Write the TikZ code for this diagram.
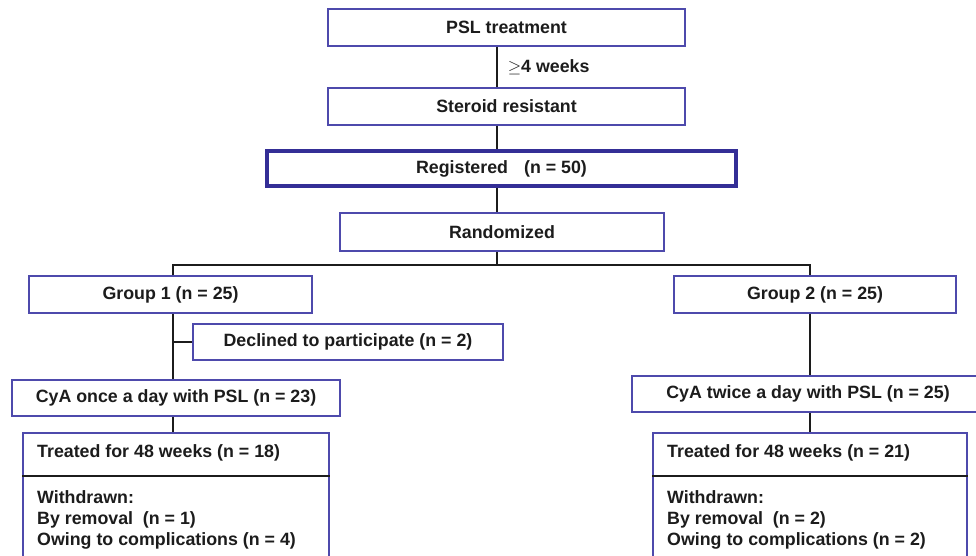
\documentclass[tikz,border=0pt]{standalone}
\usepackage{fontspec}
\setmainfont{Liberation Sans}
\definecolor{boxblue}{RGB}{78,74,172}
\definecolor{regblue}{RGB}{52,46,150}
\definecolor{ink}{RGB}{28,28,28}
\tikzset{
  box/.style={draw=boxblue, line width=1.5pt, rectangle, inner sep=0pt, fill=white,
    text=ink, font=\fontsize{17.8}{21.3}\selectfont\bfseries},
  regbox/.style={box, draw=regblue, line width=4pt},
  conn/.style={draw=ink, line width=1.5pt},
  txt/.style={inner sep=0pt, text=ink, font=\fontsize{17.8}{21.3}\selectfont\bfseries}
}
\begin{document}
\begin{tikzpicture}[x=1pt,y=-1pt]
\useasboundingbox (0,0) rectangle (976,556);
\clip (0,0) rectangle (976,556);
\fill[white] (0,0) rectangle (976,556);
\coordinate (sp) at (497,0);
\coordinate (lx) at (173,0);
\coordinate (rx) at (810,0);
\coordinate (by) at (0,265);
\coordinate (dv) at (0,476);
% boxes
\node[box, minimum width=357pt, minimum height=37pt] (psl) at (506.5,27.5) {PSL treatment};
\node[box, minimum width=357pt, minimum height=37pt] (ster) at (506.5,106.5) {Steroid resistant};
\node[regbox, minimum width=469pt, minimum height=35pt] (reg) at (501.5,168.5) {Registered\hspace{0.9em}(n = 50)};
\node[box, minimum width=324pt, minimum height=38pt] (rand) at (502,232) {Randomized};
\node[box, minimum width=283pt, minimum height=37pt] (g1) at (170.5,294.5) {Group 1 (n = 25)};
\node[box, minimum width=310pt, minimum height=36pt] (dec) at (348,342) {Declined to participate (n = 2)};
\node[box, minimum width=328pt, minimum height=36pt] (c1) at (176,398) {CyA once a day with PSL (n = 23)};
\node[box, minimum width=282pt, minimum height=37pt] (g2) at (815,294.5) {Group 2 (n = 25)};
\node[box, minimum width=352pt, minimum height=36pt] (c2) at (808,394) {CyA twice a day with PSL (n = 25)};
\node[box, minimum width=306pt, minimum height=140pt] (t1) at (176,503) {};
\node[box, minimum width=314pt, minimum height=140pt] (t2) at (810,503) {};
% dividers
\draw[conn] (t1.west |- dv) -- (t1.east |- dv);
\draw[conn] (t2.west |- dv) -- (t2.east |- dv);
% texts inside treated boxes
\node[txt, anchor=west] (t1a) at (37,453) {Treated for 48 weeks (n = 18)};
\node[txt, anchor=north west, align=left] (t1b) at (37,490) {Withdrawn:\\By removal\hspace{0.55em}(n = 1)\\Owing to complications (n = 4)};
\node[txt, anchor=west] (t2a) at (667,453) {Treated for 48 weeks (n = 21)};
\node[txt, anchor=north west, align=left] (t2b) at (667,490) {Withdrawn:\\By removal\hspace{0.55em}(n = 2)\\Owing to complications (n = 2)};
% connectors
\draw[conn] (psl.south -| sp) -- (ster.north -| sp)
  node[midway, right=10pt, txt] (wk) {$\geq$4 weeks};
\draw[conn] (ster.south -| sp) -- (reg.north -| sp);
\draw[conn] (reg.south -| sp) -- (rand.north -| sp);
\draw[conn] (rand.south -| sp) -- (sp |- by);
\draw[conn] (g1.north -| lx) -- (lx |- by) -- (rx |- by) -- (g2.north -| rx);
\draw[conn] (g1.south -| lx) -- (c1.north -| lx);
\draw[conn] (lx |- dec.west) -- (dec.west);
\draw[conn] (c1.south -| lx) -- (t1.north -| lx);
\draw[conn] (g2.south -| rx) -- (c2.north -| rx);
\draw[conn] (c2.south -| rx) -- (t2.north -| rx);
\end{tikzpicture}
\end{document}
